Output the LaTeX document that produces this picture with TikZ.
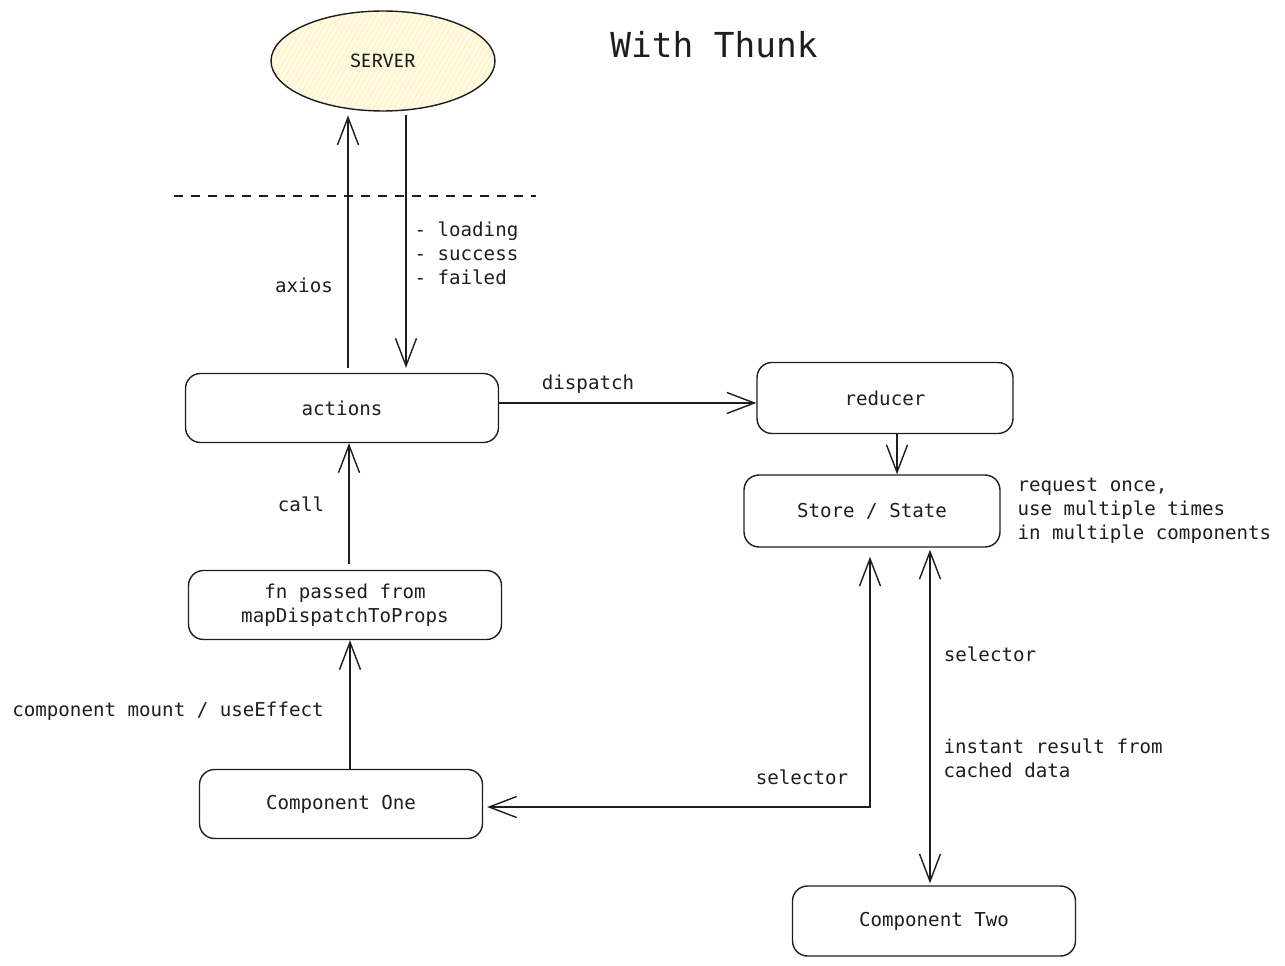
\documentclass[tikz,border=0pt]{standalone}
\usepackage{fontspec}
\setmonofont{DejaVu Sans Mono}
\newfontfamily\serverfont{Fira Sans}
\usepackage{tikz}
\usetikzlibrary{arrows.meta,shapes.geometric,patterns.meta}
\definecolor{ink}{HTML}{1E1E1E}
\definecolor{sand}{HTML}{FFEC99}

\begin{document}
\begin{tikzpicture}[x=0.02cm, y=-0.02cm, line width=0.8pt, color=ink,
    font=\ttfamily\fontsize{10.9}{13.6}\selectfont,
    box/.style={draw, rounded corners=0.3cm, align=center, inner sep=0pt},
    arr/.style={-{Straight Barb[length=0.55cm,width=0.42cm]}},
    arrboth/.style={{Straight Barb[length=0.55cm,width=0.42cm]}-{Straight Barb[length=0.55cm,width=0.42cm]}},
    note/.style={align=left, anchor=west}]
    \useasboundingbox (0,0) rectangle (1285,966);

    % Title
    \node[font=\ttfamily\fontsize{19.6}{22}\selectfont] (title) at (714,45) {With Thunk};

    % Server
    \node[ellipse, draw, minimum width=4.48cm, minimum height=2cm,
          preaction={fill=sand!25}, pattern={Lines[angle=60,distance=2.5pt,line width=0.5pt]},
          pattern color=sand!70, font=\serverfont\fontsize{11}{13}\selectfont] (server) at (383,61) {SERVER};

    % Boxes
    \foreach \n/\x/\y/\w/\h/\t in {actions/342/408/6.26/1.38/actions,
                                   reducer/885/398/5.12/1.42/reducer,
                                   store/872/511/5.12/1.44/{Store / State},
                                   fn/345/605/6.26/1.38/{fn passed from\\mapDispatchToProps},
                                   one/341/804/5.66/1.38/{Component One},
                                   two/934/921/5.66/1.40/{Component Two}} {
        \node[box, minimum width=\w cm, minimum height=\h cm] (\n) at (\x,\y) {\t};
    }

    % Columns and rows for the connectors
    \coordinate (ax) at (348,0);
    \coordinate (rx) at (406,0);
    \coordinate (sx) at (897,0);
    \coordinate (cx) at (349,0);
    \coordinate (mx) at (350,0);
    \coordinate (lx) at (870,0);
    \coordinate (tx) at (930,0);
    \coordinate (dy) at (0,403);
    \coordinate (ly) at (0,807);

    % Server boundary
    \draw[dash pattern=on 0.18cm off 0.16cm] (174,196) -- (536,196);

    % Connectors
    \draw[arr] ([yshift=0.1cm]actions.north -| ax) -- ([yshift=-0.08cm]server.south -| ax);
    \draw[arr] ([yshift=-0.08cm]server.south -| rx) -- ([yshift=0.1cm]actions.north -| rx);
    \draw[arr] (actions.east |- dy) -- (reducer.west |- dy);
    \draw[arr] (reducer.south -| sx) -- (store.north -| sx);
    \draw[arr] ([yshift=0.12cm]fn.north -| cx) -- (actions.south -| cx);
    \draw[arr] (one.north -| mx) -- (fn.south -| mx);
    \draw[arrboth] ([xshift=0.08cm]one.east |- ly) -- (lx |- ly) -- ([yshift=-0.18cm]store.south -| lx);
    \draw[arrboth] ([yshift=-0.04cm]store.south -| tx) -- ([yshift=0.04cm]two.north -| tx);

    % Labels
    \node (axios) at (304,285) {axios};
    \node[note] (status) at (408,253) {- loading\\- success\\- failed};
    \node (dispatch) at (588,384) {dispatch};
    \node (call) at (301,504) {call};
    \node (mount) at (168,711) {component mount / useEffect};
    \node[note] (reuse) at (1011,511) {request once,\\use multiple times\\in multiple components};
    \node (selone) at (802,777) {selector};
    \node (seltwo) at (990,654) {selector};
    \node[note] (cached) at (937,758) {instant result from\\cached data};
\end{tikzpicture}
\end{document}
